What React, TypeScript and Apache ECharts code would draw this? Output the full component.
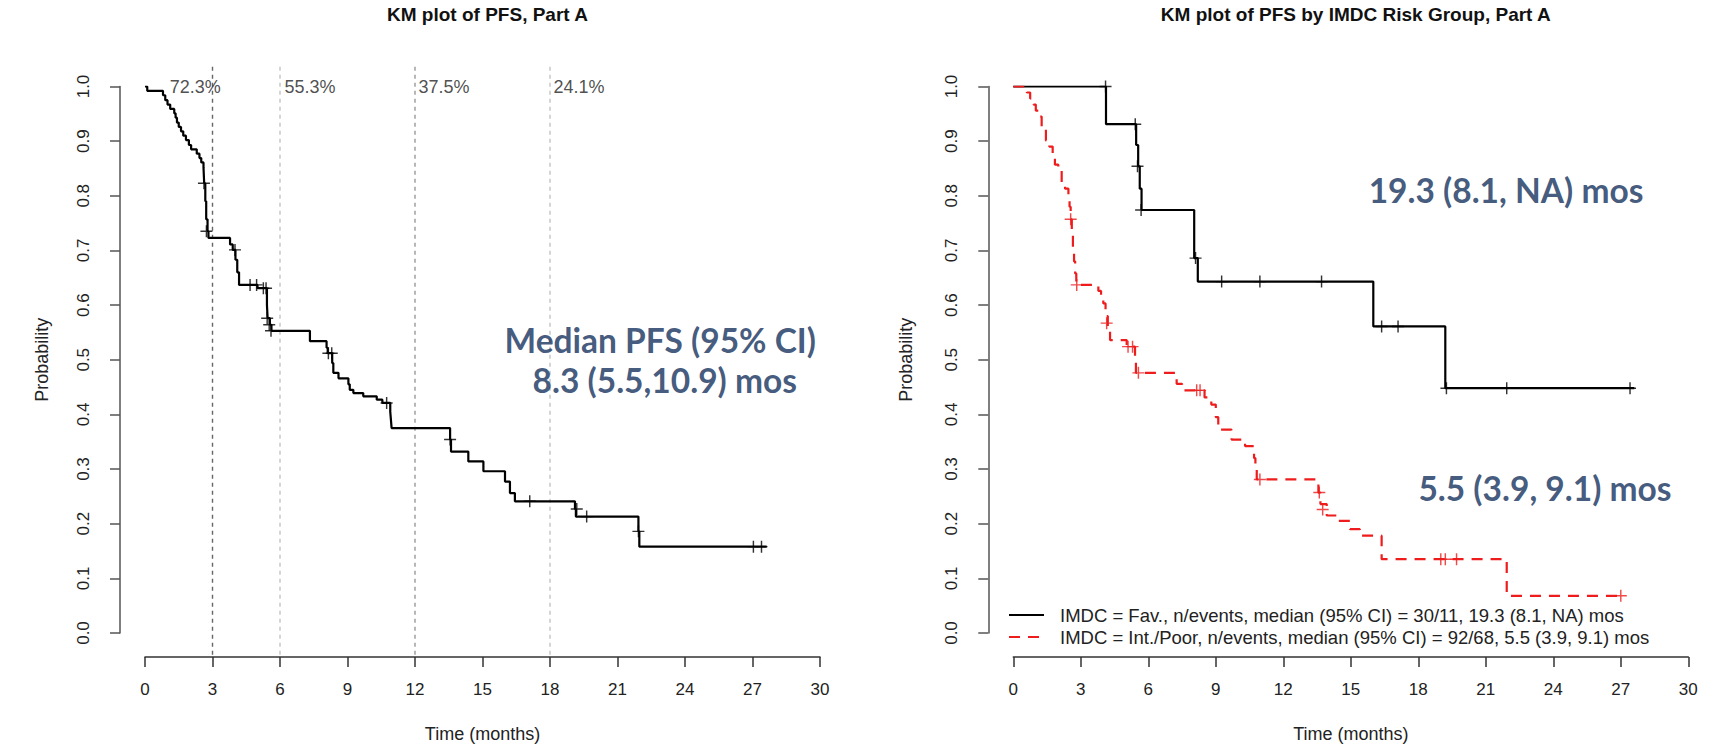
import React, { useEffect, useRef } from "react";
import * as echarts from "echarts";

// ---------------- data ----------------
const TIME_MIN = 0;
const TIME_MAX = 30;
const TIME_STEP = 3;
const PROB_MIN = 0;
const PROB_MAX = 1;
const PROB_STEP = 0.1;

// Left panel: overall PFS, Part A  [time (months), survival probability]
const ALL_KM: [number, number][] = [
  [0, 1.0], [0.1, 0.992], [0.8, 0.984], [0.9, 0.975], [1.0, 0.967], [1.12, 0.959],
  [1.3, 0.951], [1.36, 0.943], [1.42, 0.934], [1.5, 0.926], [1.6, 0.918], [1.7, 0.91],
  [1.82, 0.902], [1.95, 0.893], [2.05, 0.885], [2.3, 0.877], [2.42, 0.869], [2.5, 0.861],
  [2.6, 0.852], [2.63, 0.823], [2.68, 0.79], [2.72, 0.757], [2.78, 0.735], [2.82, 0.723],
  [3.78, 0.711], [3.9, 0.701], [4.02, 0.683], [4.1, 0.66], [4.18, 0.637], [5.0, 0.631],
  [5.42, 0.6], [5.45, 0.576], [5.55, 0.564], [5.62, 0.553], [7.33, 0.534], [8.07, 0.522],
  [8.12, 0.512], [8.32, 0.494], [8.37, 0.476], [8.6, 0.466], [9.04, 0.455], [9.1, 0.445],
  [9.26, 0.439], [9.7, 0.433], [10.3, 0.427], [10.55, 0.421], [10.9, 0.405], [10.93, 0.39],
  [10.96, 0.375], [13.56, 0.354], [13.6, 0.332], [14.37, 0.314], [15.04, 0.296], [16.0, 0.277],
  [16.22, 0.256], [16.44, 0.241], [19.11, 0.227], [19.15, 0.213], [21.93, 0.186], [21.97, 0.158],
  [27.63, 0.158],
];
const ALL_CENSOR: [number, number][] = [
  [2.62, 0.823], [2.73, 0.735], [4.0, 0.701], [4.67, 0.637], [4.96, 0.637], [5.26, 0.631],
  [5.38, 0.631], [5.43, 0.576], [5.52, 0.564], [5.6, 0.553], [8.15, 0.512], [8.3, 0.512],
  [10.74, 0.421], [13.56, 0.354], [17.1, 0.241], [19.19, 0.227], [19.63, 0.213], [21.93, 0.186],
  [27.04, 0.158], [27.4, 0.158],
];
const LANDMARK_TIMES = [3, 6, 12, 18];
const LANDMARK_LABELS = ["72.3%", "55.3%", "37.5%", "24.1%"];
const LANDMARK_LABEL_TIMES = [1.1, 6.2, 12.15, 18.15];

// Right panel: by IMDC risk group
const FAV_NAME = "IMDC = Fav., n/events, median (95% CI) = 30/11, 19.3 (8.1, NA) mos";
const POOR_NAME = "IMDC = Int./Poor, n/events, median (95% CI) = 92/68, 5.5 (3.9, 9.1) mos";

const FAV_KM: [number, number][] = [
  [0, 1.0], [4.12, 0.931], [5.46, 0.893], [5.55, 0.854], [5.62, 0.813], [5.7, 0.774],
  [8.04, 0.686], [8.2, 0.643], [16.0, 0.561], [19.2, 0.448], [27.6, 0.448],
];
const FAV_CENSOR: [number, number][] = [
  [4.1, 1.0], [5.42, 0.931], [5.52, 0.854], [5.68, 0.774], [8.1, 0.686], [9.26, 0.643],
  [10.96, 0.643], [13.7, 0.643], [16.37, 0.561], [17.1, 0.561], [19.25, 0.448], [21.93, 0.448],
  [27.41, 0.448],
];
const POOR_KM: [number, number][] = [
  [0, 1.0], [0.6, 0.989], [0.75, 0.978], [0.9, 0.967], [1.0, 0.956], [1.15, 0.945],
  [1.26, 0.923], [1.45, 0.901], [1.6, 0.89], [1.75, 0.868], [1.85, 0.857], [2.0, 0.846],
  [2.15, 0.824], [2.3, 0.813], [2.45, 0.802], [2.5, 0.78], [2.55, 0.757], [2.6, 0.735],
  [2.65, 0.702], [2.7, 0.68], [2.75, 0.658], [2.8, 0.637], [3.78, 0.626], [3.9, 0.614],
  [4.0, 0.603], [4.1, 0.58], [4.2, 0.556], [4.3, 0.536], [5.04, 0.524], [5.41, 0.5],
  [5.45, 0.476], [7.26, 0.456], [7.5, 0.444], [8.5, 0.431], [8.8, 0.418], [9.0, 0.395],
  [9.11, 0.372], [9.7, 0.354], [10.3, 0.342], [10.7, 0.32], [10.76, 0.3], [10.82, 0.281],
  [13.56, 0.257], [13.65, 0.236], [13.93, 0.215], [14.37, 0.205], [14.96, 0.19], [15.4, 0.178],
  [16.37, 0.135], [21.93, 0.068], [27.04, 0.068],
];
const POOR_CENSOR: [number, number][] = [
  [2.55, 0.757], [2.82, 0.637], [4.15, 0.567], [5.1, 0.524], [5.3, 0.524], [5.56, 0.476],
  [8.15, 0.444], [8.3, 0.444], [10.96, 0.281], [13.6, 0.257], [13.75, 0.226], [19.0, 0.135],
  [19.2, 0.135], [19.7, 0.135], [27.0, 0.068],
];

// Annotations (text, anchored at data coordinates)
const LEFT_NOTES = ["Median PFS (95% CI)", "8.3 (5.5,10.9) mos"];
const LEFT_NOTE_AT: [number, number][] = [[22.9, 0.537], [23.1, 0.463]];
const RIGHT_NOTES = ["19.3 (8.1, NA) mos", "5.5 (3.9, 9.1) mos"];
const RIGHT_NOTE_AT: [number, number][] = [[21.9, 0.811], [23.63, 0.266]];

const TITLES = ["KM plot of PFS, Part A", "KM plot of PFS by IMDC Risk Group, Part A"];
const X_NAME = "Time (months)";
const Y_NAME = "Probability";

// ---------------- styles ----------------
const FONT = '"Liberation Sans", Arial, Helvetica, sans-serif';
const NOTE_FONT = 'Lato, "Open Sans", "Noto Sans", sans-serif';
const NOTE_COLOR = "#14305c";
const RED = "#ee1c1c";
const PLUS = "path://M4.4,0H5.6V10H4.4Z M0,4.4H10V5.6H0Z";
const LANDMARK_COLORS = ["#666666", "#c4c4c4", "#9a9a9a", "#c4c4c4"];
const PAD_LO = -0.04;
const PAD_HI = 1.04;

const GRID_TOP = 86.5;
const GRID_H = 547;
const GRID_W = 675;
const GRID_LEFTS = [145, 1013.3];

function xAxisFor(gridIndex: number) {
  return {
    type: "value",
    gridIndex,
    min: TIME_MIN,
    max: TIME_MAX,
    interval: TIME_STEP,
    offset: 24,
    axisLine: { show: true, onZero: false, lineStyle: { color: "#333", width: 1.5 } },
    axisTick: { show: true, length: 10, lineStyle: { color: "#333", width: 1.5 } },
    axisLabel: { margin: 24, fontSize: 17, color: "#222", fontFamily: FONT },
    splitLine: { show: false },
    name: X_NAME,
    nameLocation: "middle",
    nameGap: 68,
    nameTextStyle: { fontSize: 18, color: "#222", fontFamily: FONT },
  };
}

function yAxisFor(gridIndex: number, nameGap: number) {
  return {
    type: "value",
    gridIndex,
    min: PROB_MIN,
    max: PROB_MAX,
    interval: PROB_STEP,
    offset: 25,
    axisLine: { show: true, onZero: false, lineStyle: { color: "#555", width: 1.5 } },
    axisTick: { show: true, length: 10, lineStyle: { color: "#555", width: 1.5 } },
    axisLabel: {
      rotate: 90,
      margin: 28,
      fontSize: 17,
      color: "#222",
      fontFamily: FONT,
      formatter: (v: number) => v.toFixed(1),
    },
    splitLine: { show: false },
    name: Y_NAME,
    nameLocation: "middle",
    nameGap,
    nameRotate: 90,
    nameTextStyle: { fontSize: 18, color: "#222", fontFamily: FONT },
  };
}

function kmLine(name: string, data: [number, number][], idx: number, color: string, dashed: boolean) {
  return {
    type: "line",
    name,
    xAxisIndex: idx,
    yAxisIndex: idx,
    data,
    step: "end",
    symbol: "none",
    showSymbol: false,
    z: 5,
    lineStyle: { color, width: 2.2, type: dashed ? [11, 8] : "solid" },
    itemStyle: { color },
  };
}

function censorSeries(data: [number, number][], idx: number, color: string) {
  return {
    type: "scatter",
    xAxisIndex: idx,
    yAxisIndex: idx,
    data,
    symbol: PLUS,
    symbolSize: 12,
    z: 6,
    itemStyle: { color },
    silent: true,
  };
}

function noteSeries(texts: string[], at: [number, number][], idx: number) {
  return {
    type: "scatter",
    xAxisIndex: idx,
    yAxisIndex: idx,
    data: at,
    symbolSize: 0,
    silent: true,
    z: 7,
    label: {
      show: true,
      position: "inside",
      formatter: (p: any) => texts[p.dataIndex],
      fontFamily: NOTE_FONT,
      fontWeight: "bold",
      fontSize: 33.5,
      color: NOTE_COLOR,
    },
  };
}

export default function App() {
  const ref = useRef<HTMLDivElement>(null);

  useEffect(() => {
    if (!ref.current) return;
    const chart = echarts.init(ref.current, undefined, { renderer: "svg" });

    const landmarkLines = LANDMARK_TIMES.map((t, i) => ({
      type: "line",
      xAxisIndex: 0,
      yAxisIndex: 0,
      data: [
        [t, PAD_LO],
        [t, PAD_HI],
      ],
      clip: false,
      symbol: "none",
      silent: true,
      z: 2,
      lineStyle: { color: LANDMARK_COLORS[i], width: 1.4, type: [4, 4] },
    }));

    const option: any = {
      animation: false,
      backgroundColor: "#ffffff",
      title: TITLES.map((text, i) => ({
        text,
        left: GRID_LEFTS[i] + GRID_W / 2,
        top: 0,
        textAlign: "center",
        textStyle: { fontSize: 19, fontWeight: "bold", color: "#111", fontFamily: FONT },
      })),
      grid: GRID_LEFTS.map((left) => ({
        left,
        top: GRID_TOP,
        width: GRID_W,
        height: GRID_H,
        containLabel: false,
      })),
      xAxis: [xAxisFor(0), xAxisFor(1)],
      yAxis: [yAxisFor(0, 69), yAxisFor(1, 73)],
      legend: {
        data: [FAV_NAME, POOR_NAME],
        orient: "vertical",
        left: 1003,
        top: 600,
        itemWidth: 35,
        itemHeight: 14,
        itemGap: 2,
        selectedMode: false,
        itemStyle: { opacity: 0 },
        textStyle: {
          fontSize: 18.5,
          fontFamily: FONT,
          color: "#222",
          lineHeight: 20,
          padding: [0, 0, 0, 11],
        },
      },
      series: [
        ...landmarkLines,
        {
          type: "scatter",
          xAxisIndex: 0,
          yAxisIndex: 0,
          data: LANDMARK_LABEL_TIMES.map((t) => [t, PROB_MAX]),
          symbolSize: 0,
          silent: true,
          label: {
            show: true,
            position: "right",
            distance: 0,
            formatter: (p: any) => LANDMARK_LABELS[p.dataIndex],
            fontSize: 18,
            fontFamily: FONT,
            color: "#222",
          },
        },
        kmLine("Overall", ALL_KM, 0, "#000", false),
        censorSeries(ALL_CENSOR, 0, "#000"),
        noteSeries(LEFT_NOTES, LEFT_NOTE_AT, 0),
        kmLine(FAV_NAME, FAV_KM, 1, "#000", false),
        kmLine(POOR_NAME, POOR_KM, 1, RED, true),
        censorSeries(FAV_CENSOR, 1, "#000"),
        censorSeries(POOR_CENSOR, 1, RED),
        noteSeries(RIGHT_NOTES, RIGHT_NOTE_AT, 1),
      ],
    };

    chart.setOption(option);
    return () => chart.dispose();
  }, []);

  return (
    <div
      ref={ref}
      style={{ position: "absolute", left: 0, top: 0, width: 1709, height: 748, background: "#fff" }}
    />
  );
}
